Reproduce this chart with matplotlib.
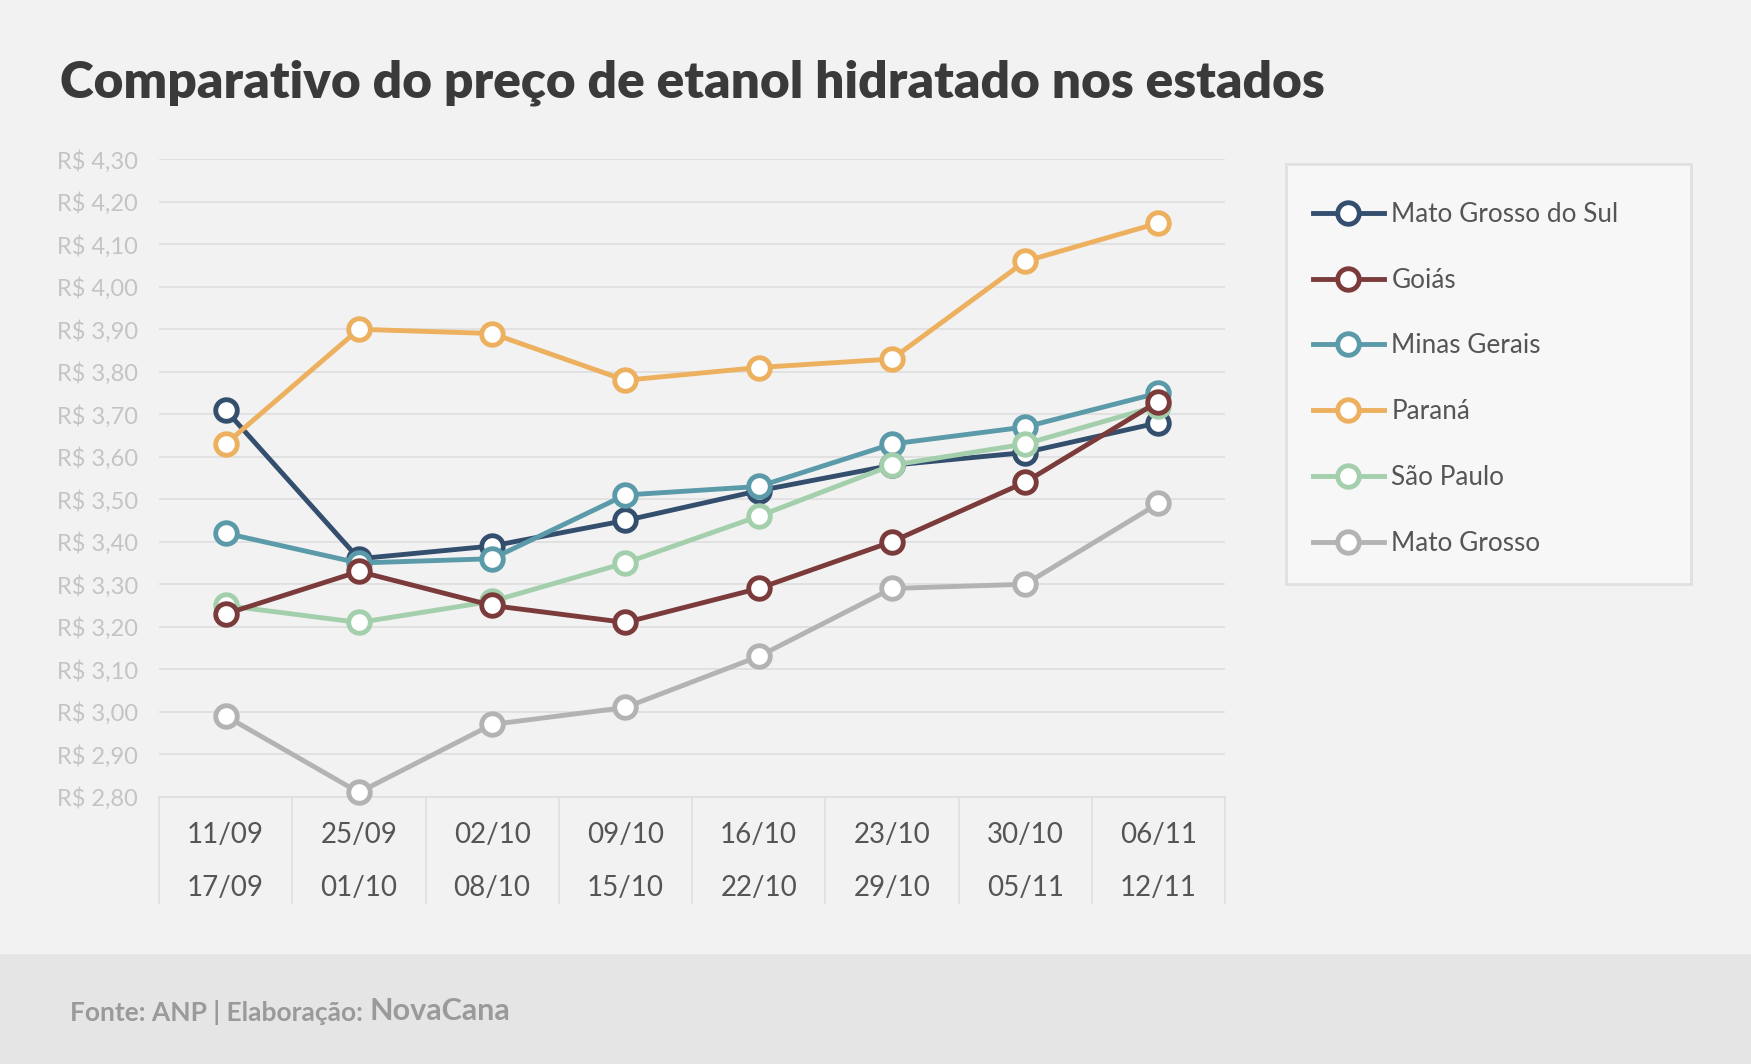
import matplotlib.pyplot as plt
from matplotlib.patches import Rectangle
from matplotlib.ticker import FixedLocator, FuncFormatter

plt.rcParams['font.family'] = ['Lato', 'DejaVu Sans']

semanas = ['11/09\n17/09', '25/09\n01/10', '02/10\n08/10', '09/10\n15/10',
           '16/10\n22/10', '23/10\n29/10', '30/10\n05/11', '06/11\n12/11']

estados = ['Mato Grosso do Sul', 'Goiás', 'Minas Gerais', 'Paraná', 'São Paulo', 'Mato Grosso']

ms = [3.71, 3.36, 3.39, 3.45, 3.52, 3.58, 3.61, 3.68]
go = [3.23, 3.33, 3.25, 3.21, 3.29, 3.40, 3.54, 3.73]
mg = [3.42, 3.35, 3.36, 3.51, 3.53, 3.63, 3.67, 3.75]
pr = [3.63, 3.90, 3.89, 3.78, 3.81, 3.83, 4.06, 4.15]
sp = [3.25, 3.21, 3.26, 3.35, 3.46, 3.58, 3.63, 3.72]
mt = [2.99, 2.81, 2.97, 3.01, 3.13, 3.29, 3.30, 3.49]

cores = ['#344e6e', '#7b3b3b', '#5b9aa8', '#ecb05e', '#a3cfac', '#b3b3b3']
camadas = [3, 7, 4, 5, 6, 8]

W, H = 1751, 1064
fig = plt.figure(figsize=(W / 100, H / 100), dpi=100, facecolor='#f2f2f2')

# rodape
fig.patches.append(Rectangle((0, 0), 1, (H - 954) / H, transform=fig.transFigure,
                             facecolor='#e5e5e5', edgecolor='none', zorder=-2))

ax = fig.add_axes([159 / W, 1 - 796.7 / H, (1225 - 159) / W, (796.7 - 159.3) / H])
ax.set_facecolor('#f2f2f2')

x = list(range(len(semanas)))
series = [ms, go, mg, pr, sp, mt]
for nome, vals, cor, z in zip(estados, series, cores, camadas):
    ax.plot(x, vals, color=cor, lw=3.5, marker='o', ms=15.5, mfc='white', mec=cor,
            mew=3.5, label=nome, zorder=z, clip_on=False)

ax.set_xlim(-0.5, 7.5)
ax.set_ylim(2.80, 4.30)
ax.yaxis.set_major_locator(FixedLocator([2.80 + 0.1 * i for i in range(16)]))
ax.yaxis.set_major_formatter(FuncFormatter(lambda v, p: 'R$ ' + ('%.2f' % v).replace('.', ',')))
ax.grid(axis='y', color='#e0e0e0', lw=1.3, zorder=0)
ax.set_axisbelow(True)

for s in ['top', 'right', 'left']:
    ax.spines[s].set_visible(False)
ax.spines['bottom'].set_color('#e0e0e0')
ax.spines['bottom'].set_linewidth(1.3)

ax.set_xticks(x)
ax.set_xticklabels(semanas)
ax.set_xticks([i - 0.5 for i in range(len(semanas) + 1)], minor=True)
ax.tick_params(axis='x', which='major', length=0, pad=18, labelsize=20, labelcolor='#555555')
ax.tick_params(axis='x', which='minor', length=77, width=1.3, color='#e0e0e0', direction='out')
ax.tick_params(axis='y', length=0, pad=15, labelsize=17, labelcolor='#c4c4c4')
for lbl in ax.get_xticklabels():
    lbl.set_linespacing(2.28)

fig.text(60 / W, 1 - 98 / H, 'Comparativo do preço de etanol hidratado nos estados',
         fontsize=37, fontweight='heavy', color='#3a3a3a', va='baseline', ha='left')

# legenda
fig.patches.append(Rectangle((1286 / W, 1 - 584 / H), (1691 - 1286) / W, (584 - 164) / H,
                             transform=fig.transFigure, facecolor='#f7f7f7',
                             edgecolor='#e0e0e0', lw=2, zorder=-1))
leg = ax.legend(loc='upper left', bbox_to_anchor=(1313 / W, 1 - 202 / H),
                bbox_transform=fig.transFigure, frameon=False, fontsize=18.8,
                handlelength=2.7, handletextpad=0.3, labelspacing=1.56, borderpad=0,
                borderaxespad=0)
for t in leg.get_texts():
    t.set_color('#555555')

t1 = fig.text(70 / W, 1 - 1021 / H, 'Fonte: ANP | Elaboração: ', fontsize=19,
              fontweight='bold', color='#9a9a9a', va='baseline', ha='left')
ax.annotate('NovaCana', xy=(1, 0), xycoords=t1, fontsize=22, fontweight='bold',
            color='#9a9a9a', va='bottom', ha='left', annotation_clip=False)

fig.savefig('out.png', dpi=100, facecolor=fig.get_facecolor())
